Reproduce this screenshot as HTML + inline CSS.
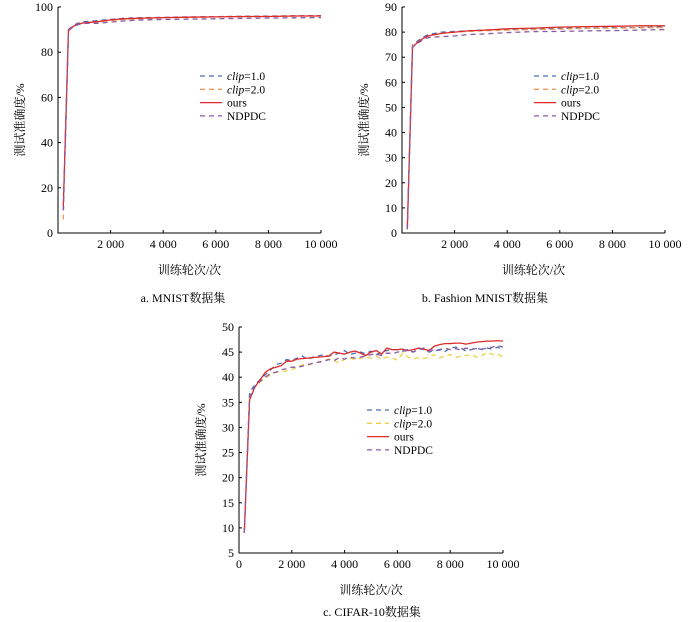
<!DOCTYPE html>
<html><head><meta charset="utf-8"><style>
body{margin:0;background:#fff;}
svg{display:block;font-family:"Liberation Serif","Noto Serif CJK SC",serif;}
</style></head><body>
<svg id="fig" width="700" height="622" viewBox="0 0 700 622"></svg>
<script>
// ---- data ----
const xsAB = [200,400,600,800,1000,1500,2000,2500,3000,4000,5000,6000,7000,8000,9000,10000];
const mnistOurs  = [12,90,91.5,92.5,93,93.5,94.3,94.8,95,95.3,95.5,95.6,95.8,95.8,96,96];
const mnistClip1 = [10,90,92,93,93.5,94,94.5,95,95.2,95.4,95.6,95.7,95.9,96,96.1,96.2];
const mnistClip2 = [6,89.5,91.5,92.5,93,93.5,94,94.5,94.8,95.2,95.4,95.6,95.7,95.9,96,96];
const mnistNdpdc = [10,89.5,91.5,92.3,92.8,92.8,93.3,93.8,94.2,94.5,94.6,94.8,95,95.1,95.2,95.3];
const fashOurs  = [1.5,74,76,77.5,78.5,79.5,80,80.5,80.7,81.3,81.6,82,82.2,82.3,82.5,82.5];
const fashClip1 = [1.5,75,76.5,78,79,80,80.3,80.5,80.8,81,81.2,81.5,81.6,81.8,81.8,82];
const fashClip2 = [1.5,74.5,76,77.5,78.5,79.5,80,80.3,80.5,80.8,81,81.2,81.5,81.6,81.7,81.8];
const fashNdpdc = [1.5,74,75.5,77,77.8,78.2,78.5,79,79.2,79.8,80.2,80.3,80.5,80.6,80.8,81];
const xsC = [200,400,600,800,1000,1200,1400,1600,1800,2000,2200,2400,2600,2800,3000,3200,3400,3600,3800,4000,4200,4400,4600,4800,5000,5200,5400,5600,5800,6000,6200,6400,6600,6800,7000,7200,7400,7600,7800,8000,8200,8400,8600,8800,9000,9200,9400,9600,9800,10000];
const cifOurs = [9,35.5,38,39.5,41,41.7,42,42.3,43.2,43.2,43.6,43.7,43.8,43.9,44,44.1,44.2,45,44.8,44.6,45,45.2,44.8,44.3,45,45.3,44.6,45.8,45.5,45.5,45.6,45.3,45.5,45.8,45.6,45.3,46.2,46.5,46.7,46.7,46.8,46.8,46.6,46.8,47,47.1,47.2,47.2,47.3,47.2];
const cifClip1 = [9,37,38.5,39.5,40.5,41.5,42.5,42.8,43.5,43.3,43.8,44.2,43.5,44,44.2,44.5,44.2,44.5,44.8,45.3,44.5,44.8,45,44.7,45.2,44.5,45,45.3,45.5,45.5,45.2,45.3,45,45.7,45.5,45,45.3,45.4,45.1,45.8,46,45.8,45.2,45.5,45.8,45.5,45.8,45.6,46,45.4];
const cifClip2 = [9,36,38,39,39.8,40.5,41,41,41.3,41.5,42,42.5,42.3,42.8,43,43.3,43.6,43.3,42.8,43.6,43.8,43.5,43.8,44,43.8,44.2,43.6,44,43.8,43.4,44.8,44,43.6,43.9,43.7,44,44.5,43.8,44.3,44.5,43.9,44.2,44.3,44.5,44,44.3,45,44.5,44.6,44];
const cifNdpdc = [9,36,38.2,39.2,40,40.8,41,41.5,41.7,42,42,42.2,42.5,42.8,43,43.2,43.5,43.3,43.9,43.6,44,43.8,44,44.2,44.5,44.6,44.3,44.8,44.7,45,45.2,45.5,45,45.5,45.8,45.5,45.3,45.5,45.8,45.5,45.7,45.4,45.8,45.6,45.7,45.6,45.8,46,46.3,46];
const xTicksAB = [2000,4000,6000,8000,10000];
const xTickLabelsAB = ["2 000","4 000","6 000","8 000","10 000"];
const xTicksC = [0,2000,4000,6000,8000,10000];
const xTickLabelsC = ["0","2 000","4 000","6 000","8 000","10 000"];
const yTicksA = [0,20,40,60,80,100];
const yTicksB = [0,10,20,30,40,50,60,70,80,90];
const yTicksC = [5,10,15,20,25,30,35,40,45,50];

const NS="http://www.w3.org/2000/svg";
const svg=document.getElementById('fig');
function mk(tag,attrs,parent){const e=document.createElementNS(NS,tag);for(const k in attrs)e.setAttribute(k,attrs[k]);(parent||svg).appendChild(e);return e;}

function panel(o){
  const g=mk('g',{});
  
  
  const sx=v=>o.x0+(v-0)/10000*(o.x1-o.x0);
  const sy=v=>o.y0-(v-o.ymin)/(o.ymax-o.ymin)*(o.y0-o.y1);
  const ax=mk('path',{d:`M${o.x0},${o.y1}V${o.y0}H${o.x1}`,stroke:'#000','stroke-width':1,fill:'none'},g);
  
  
  o.yt.forEach(v=>{
    mk('line',{x1:o.x0,x2:o.x0+3,y1:sy(v),y2:sy(v),stroke:'#000'},g);
    const t=mk('text',{x:o.x0-5,y:sy(v)+4,'text-anchor':'end','font-size':12},g);
    t.textContent=v;
    
    
  });
  o.xt.forEach((v,i)=>{
    mk('line',{x1:sx(v),x2:sx(v),y1:o.y0,y2:o.y0-3,stroke:'#000'},g);
    const t=mk('text',{x:sx(v),y:o.y0+15,'text-anchor':'middle','font-size':12},g);
    t.textContent=o.xl[i];
    
    
  });
  o.series.forEach(s=>{
    const d=s.ys.map((v,i)=>(i?'L':'M')+sx(s.xs[i]).toFixed(1)+','+sy(v).toFixed(1)).join('');
    const p=mk('path',{d,fill:'none',stroke:s.c,'stroke-width':1.3,'stroke-dasharray':s.dash?'5,4':'none'},g);
    
    
  });
  const lg=mk('g',{},g);
  
  
  o.series.forEach((s,i)=>{
    const y=o.ly+i*13.3;
    mk('line',{x1:o.lx,x2:o.lx+22,y1:y,y2:y,stroke:s.c,'stroke-width':1.3,'stroke-dasharray':s.dash?'5,4':'none'},lg);
    const t=mk('text',{x:o.lx+27,y:y+4,'font-size':11.5},lg);
    t.innerHTML=s.label;
    
    
  });
  const yt=mk('text',{x:0,y:0,transform:`translate(${o.x0-34},${(o.y0+o.y1)/2}) rotate(-90)`,'text-anchor':'middle','font-size':12},g);
  yt.textContent='测试准确度/%';
  
  
  const xt=mk('text',{x:(o.x0+o.x1)/2,y:o.y0+41,'text-anchor':'middle','font-size':12},g);
  xt.textContent='训练轮次/次';
  
  
  const cp=mk('text',{x:o.cx,y:o.cy,'text-anchor':'middle','font-size':12},g);
  cp.textContent=o.cap;
  
  
}
const L1='<tspan font-style="italic">clip</tspan>=1.0', L2='<tspan font-style="italic">clip</tspan>=2.0';
panel({id:'mnist',x0:58,x1:321,y0:233,y1:7,ymin:0,ymax:100,yt:yTicksA,xt:xTicksAB,xl:xTickLabelsAB,lx:200,ly:76,cx:183,cy:302,cap:'a.  MNIST数据集',
 series:[{name:'clip1',label:L1,xs:xsAB,ys:mnistClip1,c:'#4a6fb0',dash:1},{name:'clip2',label:L2,xs:xsAB,ys:mnistClip2,c:'#e89a5a',dash:1},{name:'ours',label:'ours',xs:xsAB,ys:mnistOurs,c:'#e02828'},{name:'ndpdc',label:'NDPDC',xs:xsAB,ys:mnistNdpdc,c:'#8a5aa8',dash:1}]});
panel({id:'fashion',x0:402,x1:665,y0:233,y1:7,ymin:0,ymax:90,yt:yTicksB,xt:xTicksAB,xl:xTickLabelsAB,lx:534,ly:76,cx:485,cy:302,cap:'b.  Fashion MNIST数据集',
 series:[{name:'clip1',label:L1,xs:xsAB,ys:fashClip1,c:'#4a6fb0',dash:1},{name:'clip2',label:L2,xs:xsAB,ys:fashClip2,c:'#e89a5a',dash:1},{name:'ours',label:'ours',xs:xsAB,ys:fashOurs,c:'#e02828'},{name:'ndpdc',label:'NDPDC',xs:xsAB,ys:fashNdpdc,c:'#8a5aa8',dash:1}]});
panel({id:'cifar',x0:239,x1:503,y0:553,y1:327,ymin:5,ymax:50,yt:yTicksC,xt:xTicksC,xl:xTickLabelsC,lx:367,ly:410,cx:372,cy:616,cap:'c.  CIFAR-10数据集',
 series:[{name:'clip1',label:L1,xs:xsC,ys:cifClip1,c:'#4a6fb0',dash:1},{name:'clip2',label:L2,xs:xsC,ys:cifClip2,c:'#f0d040',dash:1},{name:'ours',label:'ours',xs:xsC,ys:cifOurs,c:'#e02828'},{name:'ndpdc',label:'NDPDC',xs:xsC,ys:cifNdpdc,c:'#8a5aa8',dash:1}]});
</script>
</body></html>
